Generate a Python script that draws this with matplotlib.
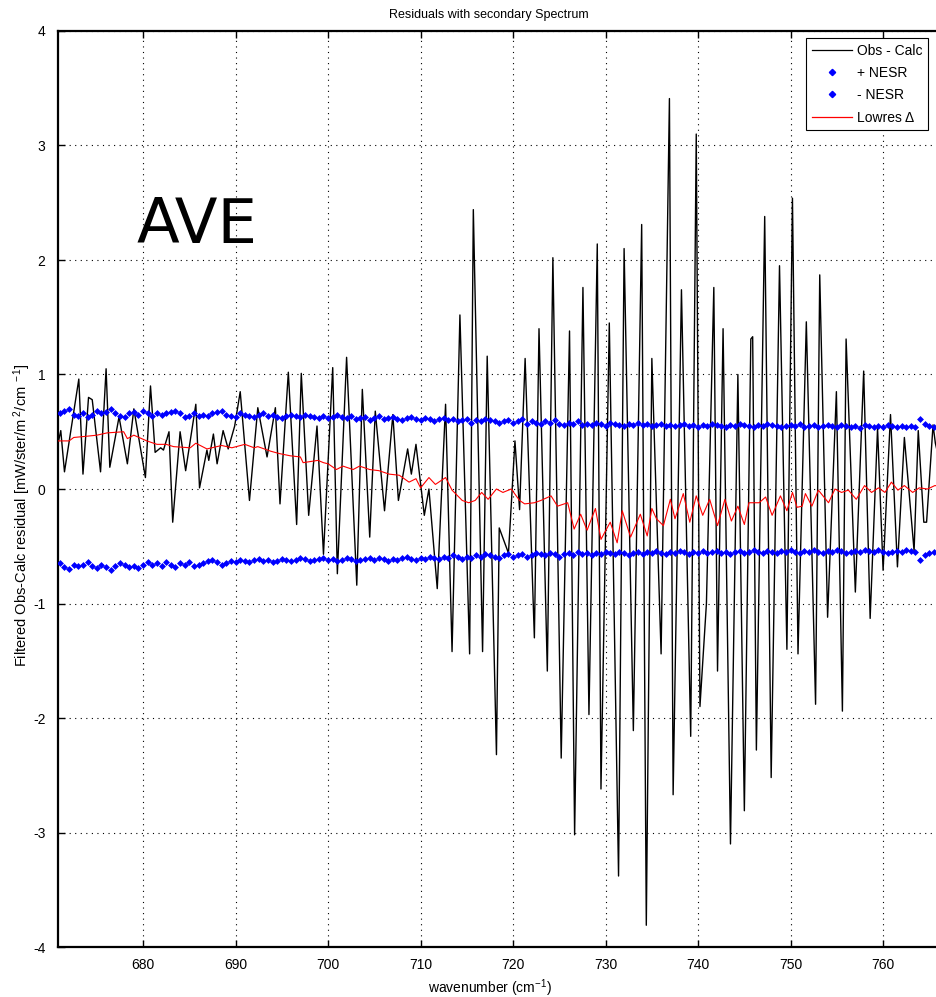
import numpy as np
import matplotlib
matplotlib.use("Agg")
import matplotlib.pyplot as plt
from matplotlib.lines import Line2D

plt.rcParams["font.family"] = ["Liberation Sans", "DejaVu Sans"]
plt.rcParams["mathtext.fontset"] = "custom"
plt.rcParams["mathtext.rm"] = "Liberation Sans"
plt.rcParams["mathtext.it"] = "Liberation Sans:italic"

# Obs - Calc residual, vertices of the filtered trace (wavenumber, value)
obs_wn = [670.7, 671.1, 671.5, 673.05, 673.5, 674.1, 674.5, 675.4, 676.0, 676.4,
          677.4, 678.3, 679.0, 680.25, 680.8, 681.3, 681.9, 682.2, 682.8, 683.2,
          684.0, 684.6, 685.7, 686.1, 686.9, 687.1, 687.6, 688.0, 688.65, 689.2,
          689.9, 690.5, 691.5, 692.4, 693.4, 694.3, 694.8, 695.7, 696.6, 697.1,
          697.9, 698.8, 699.5, 700.5, 701.0, 702.0, 703.1, 703.7, 704.5, 705.1,
          706.1, 707.0, 707.6, 708.6, 709.0, 709.5, 710.4, 710.9, 711.8, 712.7,
          713.4, 714.25, 715.3, 715.7, 716.7, 717.2, 718.2, 718.5, 719.5, 720.2,
          720.7, 721.3, 722.3, 722.8, 723.7, 724.3, 725.2, 726.1, 726.65, 727.55,
          728.2, 729.1, 729.5, 730.4, 731.4, 732.0, 733.0, 733.9, 734.4, 735.0,
          736.0, 736.9, 737.3, 738.2, 739.2, 739.8, 740.2, 740.9, 741.7, 742.1,
          742.7, 743.5, 744.3, 745.0, 745.7, 745.9, 746.3, 747.2, 747.9, 748.8,
          749.6, 750.2, 750.8, 751.7, 752.7, 753.15, 754.0, 754.95, 755.6, 756.0,
          757.0, 757.9, 758.6, 759.4, 760.0, 760.8, 761.55, 762.3, 763.35, 763.8,
          764.4, 764.7, 765.4, 765.65, 766.5]
obs_val = [0.36, 0.51, 0.15, 0.96, 0.13, 0.80, 0.78, 0.15, 1.05, 0.19,
           0.63, 0.22, 0.70, 0.10, 0.90, 0.32, 0.36, 0.34, 0.50, -0.29,
           0.50, 0.16, 0.74, 0.01, 0.34, 0.25, 0.48, 0.22, 0.51, 0.35,
           0.55, 0.85, -0.10, 0.71, 0.28, 0.71, -0.13, 1.02, -0.31, 1.01,
           -0.23, 0.55, -0.57, 1.06, -0.74, 1.15, -0.84, 0.87, -0.42, 0.68,
           -0.19, 0.65, -0.10, 0.35, 0.13, 0.39, -0.23, 0.00, -0.87, 0.74,
           -1.42, 1.52, -1.44, 2.44, -1.42, 1.16, -2.32, -0.34, -0.56, 0.42,
           -0.18, 1.14, -1.30, 1.40, -1.59, 2.02, -2.35, 1.38, -3.02, 1.76,
           -1.97, 2.14, -2.62, 1.45, -3.38, 2.10, -2.11, 2.31, -3.81, 1.14,
           -1.44, 3.41, -2.67, 1.74, -2.16, 3.10, -1.90, -1.00, 1.76, -1.59,
           1.40, -3.10, 1.00, -2.81, 1.31, 1.33, -2.28, 2.38, -2.52, 1.95,
           -1.40, 2.54, -1.44, 1.46, -1.88, 1.87, -1.12, 0.85, -1.94, 1.31,
           -0.90, 1.03, -1.13, 0.53, -0.71, 0.65, -0.68, 0.45, -0.54, 0.51,
           -0.29, -0.29, 0.56, 0.40, 0.10]

# NESR, sampled every 0.5 cm-1 from 671 cm-1 (hundredths of mW/ster/m2/cm-1)
nesr_start = 671.0
nesr_step = 0.5
nesr_plus = [
    66, 68, 70, 65, 64, 66, 63, 65, 68, 66, 67, 70, 66, 64, 63, 66, 67, 65, 68, 66,
    64, 66, 65, 66, 67, 68, 66, 63, 64, 66, 64, 65, 64, 66, 67, 68, 65, 64, 63, 66,
    65, 64, 63, 65, 66, 64, 65, 63, 62, 64, 65, 64, 63, 65, 64, 63, 62, 64, 62, 63,
    65, 63, 62, 64, 61, 62, 63, 60, 62, 64, 61, 62, 63, 61, 60, 62, 63, 61, 60, 62,
    61, 59, 61, 62, 60, 61, 59, 60, 61, 58, 60, 59, 61, 60, 59, 58, 59, 60, 58, 59,
    61, 57, 59, 58, 57, 59, 58, 60, 57, 56, 58, 57, 59, 56, 57, 56, 58, 57, 55, 58,
    57, 56, 55, 57, 56, 58, 56, 57, 55, 56, 57, 55, 56, 55, 56, 57, 55, 56, 54, 56,
    55, 57, 56, 55, 54, 56, 55, 57, 56, 55, 54, 56, 55, 57, 56, 55, 54, 55, 56, 55,
    57, 54, 55, 56, 54, 55, 56, 55, 54, 56, 55, 54, 55, 53, 56, 55, 54, 55, 54, 56,
    55, 54, 55, 54, 55, 54, 61, 57, 55, 54, 53]
nesr_minus = [
    65, 68, 70, 66, 67, 66, 64, 67, 69, 66, 68, 71, 67, 65, 66, 68, 67, 69, 66, 64,
    66, 65, 67, 64, 66, 68, 65, 66, 64, 67, 66, 65, 63, 62, 64, 66, 65, 63, 64, 62,
    63, 64, 62, 61, 63, 62, 64, 63, 61, 62, 63, 62, 60, 61, 63, 62, 61, 60, 62, 61,
    63, 62, 60, 61, 63, 62, 61, 60, 62, 60, 61, 63, 61, 62, 60, 59, 61, 62, 60, 61,
    59, 60, 61, 59, 60, 58, 59, 61, 59, 60, 58, 59, 57, 58, 59, 60, 58, 57, 59, 58,
    57, 59, 58, 56, 57, 58, 56, 57, 59, 57, 56, 58, 55, 57, 56, 58, 56, 57, 55, 56,
    57, 55, 56, 58, 56, 55, 57, 55, 56, 54, 56, 57, 55, 56, 54, 55, 57, 55, 56, 54,
    56, 55, 54, 56, 55, 57, 55, 54, 56, 55, 53, 55, 56, 54, 55, 56, 54, 55, 53, 55,
    56, 54, 55, 53, 55, 56, 54, 55, 53, 54, 56, 55, 54, 55, 53, 54, 55, 53, 55, 56,
    55, 54, 55, 53, 54, 55, 62, 58, 56, 55, 54]

# Low-resolution difference spectrum
low_wn = [670.7, 672.0, 672.5, 673.8, 675.0, 676.1, 677.9, 678.3, 679.0, 680.4,
          681.5, 682.5, 683.3, 685.1, 685.7, 686.9, 688.5, 689.6, 691.0, 692.0,
          692.4, 693.8, 694.7, 695.9, 697.0, 697.3, 698.9, 699.5, 700.0, 700.9,
          701.6, 702.7, 703.4, 704.5, 705.5, 706.6, 707.7, 708.75, 709.5, 710.0,
          710.9, 711.6, 712.7, 713.4, 714.5, 715.2, 715.9, 716.6, 717.3, 718.2,
          718.9, 719.8, 720.7, 721.25, 722.3, 723.0, 724.1, 724.8, 725.9, 726.6,
          727.3, 728.0, 728.9, 729.5, 730.5, 731.25, 731.8, 732.7, 733.75, 734.5,
          735.0, 735.5, 736.25, 737.0, 737.5, 738.4, 739.1, 739.8, 740.5, 741.25,
          742.1, 742.9, 743.6, 744.3, 745.0, 745.5, 746.6, 747.3, 748.0, 748.9,
          749.6, 750.2, 750.7, 751.25, 751.6, 752.3, 753.0, 754.1, 754.8, 755.5,
          756.25, 757.1, 758.0, 758.75, 759.5, 760.2, 760.9, 761.6, 762.3, 763.2,
          763.9, 764.8, 765.6, 766.5]
low_val = [0.42, 0.42, 0.45, 0.46, 0.47, 0.49, 0.50, 0.44, 0.47, 0.42,
           0.39, 0.39, 0.37, 0.36, 0.40, 0.35, 0.38, 0.36, 0.39, 0.36,
           0.37, 0.33, 0.31, 0.29, 0.28, 0.23, 0.25, 0.23, 0.22, 0.17,
           0.20, 0.17, 0.20, 0.17, 0.16, 0.13, 0.12, 0.06, 0.09, 0.01,
           0.10, 0.04, 0.10, -0.01, -0.10, -0.12, -0.10, -0.03, -0.09, 0.00,
           -0.03, 0.00, -0.10, -0.13, -0.12, -0.10, -0.06, -0.15, -0.12, -0.35,
           -0.22, -0.36, -0.17, -0.44, -0.29, -0.47, -0.19, -0.42, -0.22, -0.41,
           -0.17, -0.26, -0.32, -0.09, -0.26, -0.04, -0.29, -0.06, -0.23, -0.09,
           -0.32, -0.09, -0.28, -0.15, -0.31, -0.12, -0.12, -0.07, -0.23, -0.06,
           -0.19, -0.03, -0.16, -0.15, -0.04, -0.15, -0.01, -0.12, 0.00, -0.03,
           -0.01, -0.09, 0.03, -0.03, 0.01, -0.03, 0.06, -0.01, 0.03, -0.03,
           0.01, 0.00, 0.03, 0.02]

x_ticks = [680, 690, 700, 710, 720, 730, 740, 750, 760]
y_ticks = [-4, -3, -2, -1, 0, 1, 2, 3, 4]

W, H = 937, 997
fig = plt.figure(figsize=(W / 100, H / 100), dpi=100)

x0, x1 = 670.8, 771.0
px_per_unit = 9.25
ax_left, ax_top, ax_bottom = 58, 31, 947
ax = fig.add_axes([ax_left / W, (H - ax_bottom) / H,
                   (x1 - x0) * px_per_unit / W, (ax_bottom - ax_top) / H])

nesr_wn = nesr_start + nesr_step * np.arange(len(nesr_plus))
nesr_p = np.array(nesr_plus) / 100.0
nesr_m = -np.array(nesr_minus) / 100.0

ax.plot(obs_wn, obs_val, color="black", lw=1.0, zorder=3)
ax.plot(nesr_wn, nesr_p, ls="none", marker="D", ms=3.0, color="#0000ff",
        mec="#0000ff", mew=0.5, zorder=4)
ax.plot(nesr_wn, nesr_m, ls="none", marker="D", ms=3.0, color="#0000ff",
        mec="#0000ff", mew=0.5, zorder=4)
ax.plot(low_wn, low_val, color="#ff0000", lw=0.8, zorder=5)

ax.set_xlim(x0, x1)
ax.set_ylim(-4, 4)
ax.set_xticks(x_ticks)
ax.set_yticks(y_ticks)
ax.set_xticklabels([str(t) for t in x_ticks])
ax.set_yticklabels([str(t) for t in y_ticks])
ax.tick_params(direction="in", length=5, width=1.0, top=True, right=True,
               labelsize=10, colors="black")
ax.tick_params(axis="y", pad=9)
ax.tick_params(axis="x", pad=8)
ax.grid(True, color="black", ls=(0, (1, 4)), lw=0.8)
for s in ax.spines.values():
    s.set_linewidth(1.6)

handles = [
    Line2D([], [], color="black", lw=0.9),
    Line2D([], [], ls="none", marker="D", ms=3.2, color="#0000ff"),
    Line2D([], [], ls="none", marker="D", ms=3.2, color="#0000ff"),
    Line2D([], [], color="#ff0000", lw=0.9),
]
labels = ["Obs - Calc", "+ NESR", "- NESR", "Lowres \u0394"]
leg = fig.legend(handles, labels, loc="upper left",
                 bbox_to_anchor=(806 / W, 1 - 38 / H), bbox_transform=fig.transFigure,
                 fontsize=10, frameon=True, fancybox=False, framealpha=1,
                 edgecolor="black", handlelength=2.9, handletextpad=0.35,
                 labelspacing=0.6, borderpad=0.4, borderaxespad=0)
leg.get_frame().set_linewidth(0.8)

fig.text(489 / W, 1 - 15 / H, "Residuals with secondary Spectrum",
         ha="center", va="center", fontsize=9)
fig.text(490 / W, 1 - 988 / H, r"wavenumber (cm$^{-1}$)",
         ha="center", va="center", fontsize=10)
fig.text(22 / W, 1 - 515 / H,
         r"Filtered Obs-Calc residual [mW/ster/m$^{\ 2}$/cm$^{\ -1}$]",
         ha="center", va="center", rotation=90, fontsize=10.5)
fig.text(137 / W, 1 - 243 / H, "AVE", ha="left", va="baseline",
         fontsize=45, family="DejaVu Sans")

fig.savefig("out.png", dpi=100)
